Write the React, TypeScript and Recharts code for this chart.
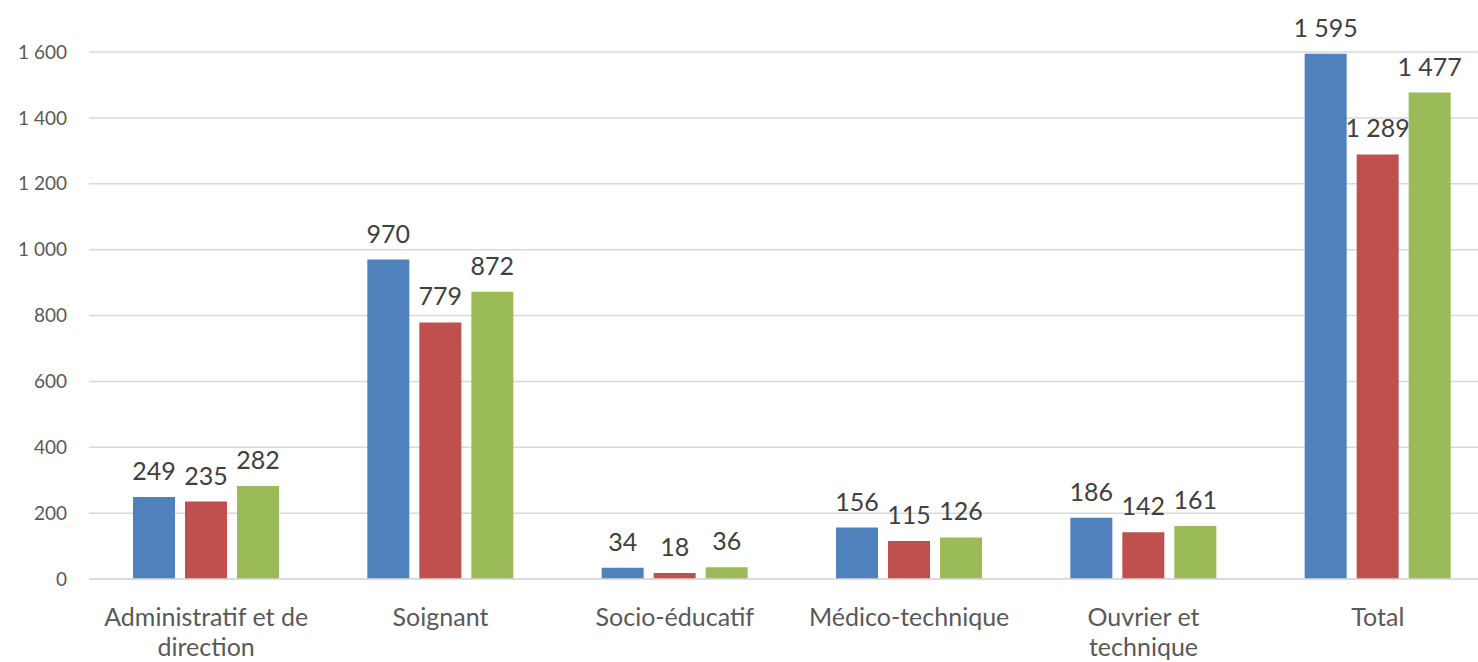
import React from "react"
import { BarChart, Bar, XAxis, YAxis, CartesianGrid, LabelList } from "recharts"

// Categories (filières) and three series values
const categories = [
  "Administratif et de direction",
  "Soignant",
  "Socio-éducatif",
  "Médico-technique",
  "Ouvrier et technique",
  "Total",
]
const serie1 = [249, 970, 34, 156, 186, 1595]
const serie2 = [235, 779, 18, 115, 142, 1289]
const serie3 = [282, 872, 36, 126, 161, 1477]
const yTicks = [0, 200, 400, 600, 800, 1000, 1200, 1400, 1600]

const data = categories.map((name, i) => ({
  name,
  s1: serie1[i],
  s2: serie2[i],
  s3: serie3[i],
}))

const FONT = "Lato, 'Open Sans', sans-serif"

// "1 595" style thousands separator
const fmt = (v: number | string) => String(v).replace(/\B(?=(\d{3})+(?!\d))/g, " ")

// wrap category names like Excel does
function wrap(text: string, maxChars = 19) {
  const words = text.split(" ")
  const lines: string[] = []
  let cur = ""
  words.forEach((w) => {
    const next = cur ? cur + " " + w : w
    if (next.length > maxChars && cur) {
      lines.push(cur)
      cur = w
    } else {
      cur = next
    }
  })
  if (cur) lines.push(cur)
  return lines
}

function CategoryTick(props: any) {
  const { x, y, payload } = props
  const lines = wrap(payload.value)
  return (
    <text x={x} y={y + 45} textAnchor="middle" fill="#595959" fontSize={25} fontFamily={FONT}>
      {lines.map((l, i) => (
        <tspan key={i} x={x} dy={i === 0 ? 0 : 30}>
          {l}
        </tspan>
      ))}
    </text>
  )
}

export default function App() {
  const labelStyle = { fill: "#404040", fontSize: 25, fontFamily: FONT }
  return (
    <div
      style={{
        position: "absolute",
        top: 0,
        left: 0,
        width: 1478,
        height: 662,
        overflow: "hidden",
        background: "#fff",
      }}
    >
      <BarChart
        width={1500}
        height={662}
        data={data}
        margin={{ top: 52, right: 5, bottom: 0, left: 0 }}
        barSize={42}
        barGap={10}
        barCategoryGap="19%"
      >
        <CartesianGrid vertical={false} stroke="#D9D9D9" strokeWidth={1.5} />
        <XAxis
          dataKey="name"
          height={83}
          tickLine={false}
          tickSize={0}
          axisLine={{ stroke: "#D9D9D9", strokeWidth: 1.5 }}
          tick={<CategoryTick />}
          interval={0}
        />
        <YAxis
          width={89}
          domain={[0, 1600]}
          ticks={yTicks}
          tickFormatter={fmt}
          axisLine={false}
          tickLine={false}
          tickSize={0}
          tickMargin={22}
          tick={{ fill: "#595959", fontSize: 19, fontFamily: FONT }}
        />
        <Bar dataKey="s1" fill="#4F81BD" isAnimationActive={false}>
          <LabelList dataKey="s1" position="top" offset={17} formatter={fmt} style={labelStyle} />
        </Bar>
        <Bar dataKey="s2" fill="#C0504D" isAnimationActive={false}>
          <LabelList dataKey="s2" position="top" offset={17} formatter={fmt} style={labelStyle} />
        </Bar>
        <Bar dataKey="s3" fill="#9BBB59" isAnimationActive={false}>
          <LabelList dataKey="s3" position="top" offset={17} formatter={fmt} style={labelStyle} />
        </Bar>
      </BarChart>
    </div>
  )
}
